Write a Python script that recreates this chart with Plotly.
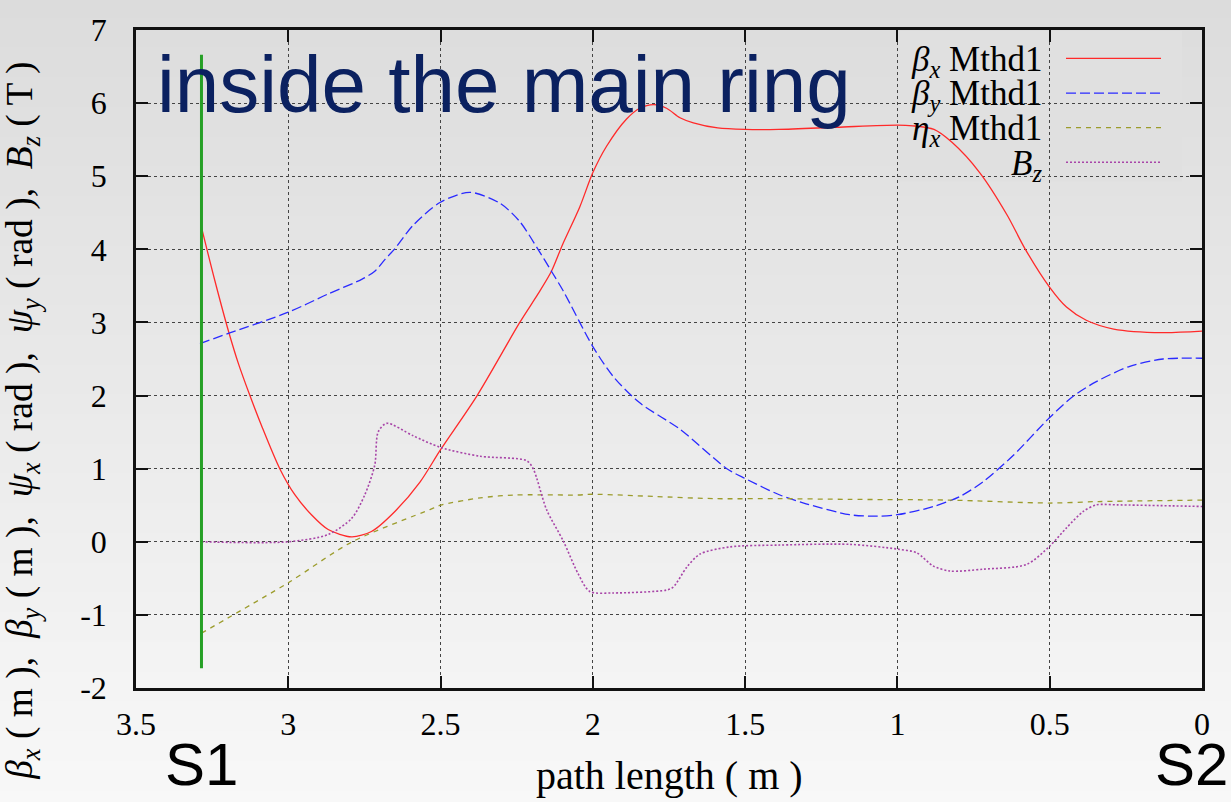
import plotly.graph_objects as go

# ---------------- data ----------------
bx_s = [3.285, 3.241, 3.197, 3.164, 3.126, 3.088, 3.028, 2.978, 2.924, 2.869, 2.792, 2.727, 2.65,
        2.567, 2.50, 2.38, 2.24, 2.18, 2.136, 2.10, 2.043, 2.00, 1.955, 1.89, 1.846, 1.80, 1.758,
        1.714, 1.67, 1.59, 1.50, 1.39, 1.20, 1.00, 0.95, 0.88, 0.82, 0.73, 0.64, 0.58, 0.50,
        0.445, 0.38, 0.29, 0.13, 0.0]
bx_v = [4.30, 3.57, 2.89, 2.44, 2.00, 1.59, 1.00, 0.64, 0.37, 0.168, 0.068, 0.14, 0.415,
        0.82, 1.26, 2.00, 3.00, 3.39, 3.70, 4.06, 4.58, 5.05, 5.41, 5.78, 5.93, 5.98, 5.93,
        5.80, 5.73, 5.66, 5.64, 5.64, 5.67, 5.70, 5.69, 5.64, 5.46, 5.05, 4.47, 4.00, 3.48,
        3.21, 3.03, 2.91, 2.86, 2.88]

by_s = [3.29, 3.197, 3.00, 2.869, 2.759, 2.716, 2.683, 2.65, 2.59, 2.502, 2.404, 2.305, 2.24,
        2.18, 2.136, 2.097, 2.00, 1.933, 1.846, 1.714, 1.56, 1.50, 1.386, 1.30, 1.157, 1.069,
        1.00, 0.883, 0.795, 0.719, 0.62, 0.50, 0.423, 0.347, 0.237, 0.128, 0.0]
by_v = [2.71, 2.85, 3.14, 3.39, 3.59, 3.70, 3.86, 4.01, 4.33, 4.64, 4.78, 4.63, 4.38,
        4.00, 3.70, 3.43, 2.67, 2.26, 1.90, 1.54, 1.00, 0.865, 0.64, 0.52, 0.37, 0.35,
        0.37, 0.48, 0.62, 0.82, 1.18, 1.70, 1.99, 2.19, 2.40, 2.50, 2.51]

eta_s = [3.285, 3.00, 2.79, 2.535, 2.50, 2.37, 2.26, 2.05, 2.00, 1.80, 1.60, 1.39, 1.16, 0.83,
         0.50, 0.34, 0.0]
eta_v = [-1.25, -0.56, 0.0, 0.44, 0.50, 0.60, 0.64, 0.64, 0.65, 0.62, 0.59, 0.59, 0.58, 0.57,
         0.53, 0.55, 0.57]

bz_s = [3.285, 3.00, 2.869, 2.792, 2.749, 2.716, 2.705, 2.677, 2.59, 2.50, 2.37, 2.218,
        2.196, 2.152, 2.097, 2.048, 2.01, 1.933, 1.758, 1.736, 1.692, 1.649, 1.55, 1.386, 1.157,
        1.00, 0.937, 0.883, 0.828, 0.719, 0.576, 0.50, 0.445, 0.39, 0.347, 0.28, 0.0]
bz_v = [0.0, 0.0, 0.10, 0.32, 0.64, 1.05, 1.50, 1.62, 1.45, 1.29, 1.17, 1.11,
        1.00, 0.44, 0.01, -0.44, -0.68, -0.70, -0.66, -0.62, -0.35, -0.17, -0.07, -0.045, -0.035,
        -0.10, -0.15, -0.33, -0.40, -0.375, -0.31, -0.06, 0.19, 0.415, 0.505, 0.505, 0.483]

marker_s = [3.285, 3.285]
marker_v = [-1.73, 6.66]

legend_labels = ["<i>β</i><sub><i>x</i></sub> Mthd1", "<i>β</i><sub><i>y</i></sub> Mthd1",
                 "<i>η</i><sub><i>x</i></sub> Mthd1", "<i>B</i><sub><i>z</i></sub>"]
x_ticks = [3.5, 3.0, 2.5, 2.0, 1.5, 1.0, 0.5, 0.0]
x_tick_text = ["3.5", "3", "2.5", "2", "1.5", "1", "0.5", "0"]
y_ticks = [-2, -1, 0, 1, 2, 3, 4, 5, 6, 7]
y_tick_text = ["-2", "-1", "0", "1", "2", "3", "4", "5", "6", "7"]

# ---------------- layout helpers ----------------
W, H = 1231, 802
L, R, T, B = 136, 29, 23, 114
PW, PH = W - L - R, H - T - B


def fx(px):
    return (px - L) / PW


def fy(py):
    return (H - B - py) / PH


styles = [
    dict(color="#ff2a2a", width=1.3),
    dict(color="#2a2aff", width=1.3, dash="10px,4px"),
    dict(color="#9c9c2c", width=1.3, dash="5px,5px"),
    dict(color="#a845a8", width=1.6, dash="2px,2px"),
]

fig = go.Figure()
for xs, ys, st in [(bx_s, bx_v, styles[0]), (by_s, by_v, styles[1]),
                   (eta_s, eta_v, styles[2]), (bz_s, bz_v, styles[3])]:
    fig.add_trace(go.Scatter(x=xs, y=ys, mode="lines",
                             line=dict(shape="spline", smoothing=0.8, **st),
                             showlegend=False, hoverinfo="skip"))
fig.add_trace(go.Scatter(x=marker_s, y=marker_v, mode="lines",
                         line=dict(color="#26a026", width=3),
                         showlegend=False, hoverinfo="skip"))

shapes = []
# page gradient background
n = 80
for i in range(n):
    t = (i + 0.5) / n
    c = int(round(220 + (248 - 220) * t))
    py0 = i * H / n - (20 if i == 0 else 0)
    py1 = (i + 1) * H / n + (20 if i == n - 1 else 1)
    shapes.append(dict(type="rect", xref="paper", yref="paper",
                       x0=fx(-20), x1=fx(W + 20), y0=fy(py1), y1=fy(py0),
                       fillcolor=f"rgb({c},{c},{c})", line=dict(width=0), layer="below"))
# legend box (hides grid behind legend)
shapes.append(dict(type="rect", xref="paper", yref="paper",
                   x0=fx(898), x1=fx(1182), y0=fy(176), y1=fy(T + 1),
                   fillcolor="rgb(224,224,224)", line=dict(width=0), layer="between"))

annotations = []
row_y = [51.7, 86.7, 121.7, 156.7]
for lab, st, ry in zip(legend_labels, styles, row_y):
    ln = dict(color=st["color"], width=st["width"])
    if "dash" in st:
        ln["dash"] = st["dash"]
    shapes.append(dict(type="line", xref="paper", yref="paper",
                       x0=fx(1066), x1=fx(1161), y0=fy(ry), y1=fy(ry), line=ln))
    annotations.append(dict(text=lab, xref="paper", yref="paper", x=fx(1044), y=fy(ry + 3),
                            xanchor="right", yanchor="middle", showarrow=False,
                            font=dict(family="Liberation Serif", size=35, color="black")))

annotations.append(dict(text="inside the main ring", xref="paper", yref="paper",
                        x=fx(155), y=fy(31), xanchor="left", yanchor="top", showarrow=False,
                        font=dict(family="Liberation Sans", size=80, color="#0b2160")))
annotations.append(dict(text="S1", xref="paper", yref="paper",
                        x=fx(163), y=fy(801), xanchor="left", yanchor="bottom", showarrow=False,
                        font=dict(family="Liberation Sans", size=60, color="black")))
annotations.append(dict(text="S2", xref="paper", yref="paper",
                        x=fx(1230), y=fy(801), xanchor="right", yanchor="bottom",
                        showarrow=False,
                        font=dict(family="Liberation Sans", size=60, color="black")))
annotations.append(dict(text="path length ( m )", xref="paper", yref="paper",
                        x=0.5, y=fy(801), xanchor="center", yanchor="bottom", showarrow=False,
                        font=dict(family="Liberation Serif", size=40, color="black")))
annotations.append(dict(
    text="<i>β</i><sub><i>x</i></sub> ( m ),  <i>β</i><sub><i>y</i></sub> ( m ),  "
         "<i>ψ</i><sub><i>x</i></sub> ( rad ),  <i>ψ</i><sub><i>y</i></sub> ( rad ),  "
         "<i>B</i><sub><i>z</i></sub> ( T )",
    xref="paper", yref="paper", x=fx(23), y=fy(418), xanchor="center", yanchor="middle",
    textangle=-90, showarrow=False,
    font=dict(family="Liberation Serif", size=37.5, color="black")))

axis_common = dict(
    showline=True, linecolor="#111111", linewidth=2.5, mirror="allticks",
    ticks="inside", ticklen=12, tickwidth=2, tickcolor="#111111",
    showgrid=True, gridcolor="#444444", gridwidth=1, griddash="dot",
    zeroline=False, tickfont=dict(family="Liberation Serif", size=32, color="black"),
    layer="above traces",
)

fig.update_layout(
    width=W, height=H,
    margin=dict(l=L, r=R, t=T, b=B, pad=0),
    paper_bgcolor="rgb(221,221,221)", plot_bgcolor="rgba(0,0,0,0)",
    xaxis=dict(range=[3.5, 0], tickvals=x_ticks, ticktext=x_tick_text,
               ticklabelstandoff=6, **axis_common),
    yaxis=dict(range=[-2, 7], tickvals=y_ticks, ticktext=y_tick_text,
               ticklabelstandoff=20, **axis_common),
    shapes=shapes, annotations=annotations,
)

fig.write_html("out.html", config={"displayModeBar": False},
               post_script="document.body.style.margin='0';document.body.style.overflow='hidden';")
